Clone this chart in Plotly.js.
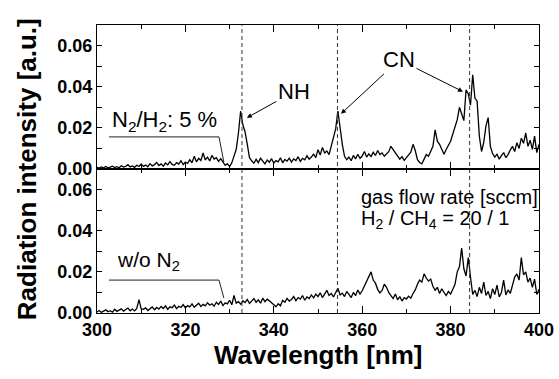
<!DOCTYPE html>
<html>
<head>
<meta charset="utf-8">
<script src="https://cdn.plot.ly/plotly-3.0.1.min.js"></script>
<style>html,body{margin:0;padding:0;background:#fff;}#chart{width:559px;height:379px;}</style>
</head>
<body>
<div id="chart"></div>
<script>
// Wavelength grid: start and step (nm)
const wlStart = 300;
const wlStep = 0.5;

// Spectrum with N2/H2 = 5 % (top panel), 300.0 ... 400.0 nm
const withN2 = [
0.0008,0.0004,0.0010,0.0006,0.0012,0.0005,0.0009,0.0014,0.0007,0.0011,
0.0006,0.0016,0.0009,0.0013,0.0021,0.0010,0.0015,0.0008,0.0018,0.0012,
0.0024,0.0013,0.0019,0.0011,0.0026,0.0015,0.0021,0.0032,0.0017,0.0025,
0.0014,0.0029,0.0020,0.0036,0.0022,0.0018,0.0031,0.0024,0.0040,0.0021,
0.0034,0.0027,0.0045,0.0030,0.0062,0.0035,0.0052,0.0041,0.0078,0.0044,
0.0058,0.0039,0.0066,0.0048,0.0055,0.0037,0.0050,0.0032,0.0018,0.0026,
0.0012,0.0030,0.0058,0.0096,0.0175,0.0282,0.0215,0.0180,0.0120,0.0055,
0.0040,0.0028,0.0047,0.0031,0.0052,0.0036,0.0025,0.0044,0.0033,0.0050,
0.0029,0.0041,0.0035,0.0055,0.0030,0.0046,0.0038,0.0053,0.0034,0.0049,
0.0041,0.0060,0.0037,0.0052,0.0045,0.0064,0.0048,0.0058,0.0072,0.0055,
0.0094,0.0068,0.0105,0.0078,0.0088,0.0070,0.0115,0.0165,0.0195,0.0282,
0.0185,0.0120,0.0062,0.0045,0.0058,0.0040,0.0066,0.0049,0.0072,0.0052,
0.0063,0.0085,0.0058,0.0074,0.0060,0.0081,0.0066,0.0090,0.0070,0.0078,
0.0062,0.0073,0.0084,0.0110,0.0095,0.0080,0.0062,0.0048,0.0060,0.0042,
0.0055,0.0068,0.0082,0.0120,0.0090,0.0045,0.0032,0.0025,0.0048,0.0070,
0.0062,0.0085,0.0110,0.0190,0.0135,0.0120,0.0098,0.0072,0.0095,0.0118,
0.0135,0.0170,0.0205,0.0240,0.0300,0.0265,0.0235,0.0385,0.0365,0.0310,
0.0458,0.0345,0.0330,0.0160,0.0085,0.0130,0.0210,0.0250,0.0110,0.0075,
0.0058,0.0072,0.0048,0.0065,0.0080,0.0055,0.0070,0.0092,0.0110,0.0085,
0.0128,0.0100,0.0150,0.0125,0.0175,0.0110,0.0140,0.0095,0.0160,0.0080,
0.0120
];

// Spectrum without N2 (bottom panel), 300.0 ... 400.0 nm
const withoutN2 = [
0.0005,0.0012,0.0003,0.0009,0.0015,0.0006,0.0011,0.0004,0.0018,0.0008,
0.0013,0.0020,0.0009,0.0016,0.0024,0.0011,0.0019,0.0010,0.0022,0.0065,
0.0020,0.0018,0.0025,0.0012,0.0021,0.0029,0.0016,0.0027,0.0019,0.0032,
0.0022,0.0035,0.0018,0.0030,0.0026,0.0038,0.0021,0.0033,0.0027,0.0041,
0.0025,0.0036,0.0030,0.0044,0.0028,0.0039,0.0047,0.0032,0.0042,0.0035,
0.0050,0.0038,0.0045,0.0033,0.0052,0.0041,0.0058,0.0036,0.0049,0.0044,
0.0062,0.0040,0.0085,0.0048,0.0055,0.0043,0.0060,0.0051,0.0066,0.0047,
0.0058,0.0070,0.0052,0.0064,0.0048,0.0072,0.0055,0.0067,0.0059,0.0050,
0.0038,0.0030,0.0045,0.0035,0.0062,0.0052,0.0071,0.0058,0.0066,0.0080,
0.0060,0.0075,0.0068,0.0085,0.0062,0.0078,0.0070,0.0088,0.0074,0.0092,
0.0080,0.0098,0.0075,0.0090,0.0110,0.0085,0.0095,0.0078,0.0102,0.0120,
0.0088,0.0096,0.0080,0.0105,0.0090,0.0075,0.0100,0.0085,0.0112,0.0092,
0.0108,0.0130,0.0150,0.0175,0.0200,0.0160,0.0145,0.0115,0.0098,0.0110,
0.0140,0.0125,0.0100,0.0085,0.0070,0.0092,0.0064,0.0080,0.0058,0.0075,
0.0068,0.0082,0.0072,0.0095,0.0112,0.0140,0.0160,0.0150,0.0190,0.0170,
0.0155,0.0165,0.0130,0.0110,0.0125,0.0095,0.0118,0.0100,0.0085,0.0105,
0.0092,0.0115,0.0140,0.0200,0.0225,0.0316,0.0215,0.0180,0.0270,0.0175,
0.0090,0.0110,0.0080,0.0125,0.0095,0.0150,0.0085,0.0105,0.0070,0.0118,
0.0090,0.0135,0.0078,0.0100,0.0160,0.0088,0.0112,0.0095,0.0140,0.0175,
0.0190,0.0160,0.0270,0.0185,0.0200,0.0150,0.0170,0.0125,0.0165,0.0090,
0.0115
];

// Emission line positions (nm) marked with dashed lines
const lineWavelengths = [332.8, 354.4, 384.3];

// Axis ranges / ticks
const xRange = [300, 400];
const yRange = [0, 0.07];
const yTickVals = [0, 0.02, 0.04, 0.06];
const yTickText = ['0.00', '0.02', '0.04', '0.06'];
const xTickVals = [300, 320, 340, 360, 380, 400];
const xTickText = ['300', '320', '340', '360', '380', '400'];

const FONT = 'Liberation Sans, Arial, sans-serif';
const tickFont = {family: FONT, size: 18, color: '#000', weight: 'bold'};

const traces = [
  {x0: wlStart, dx: wlStep, y: withN2, type: 'scatter', mode: 'lines',
   line: {color: '#000', width: 1.3}, xaxis: 'x2', yaxis: 'y2', hoverinfo: 'skip'},
  {x0: wlStart, dx: wlStep, y: withoutN2, type: 'scatter', mode: 'lines',
   line: {color: '#000', width: 1.3}, xaxis: 'x', yaxis: 'y', hoverinfo: 'skip'}
];

const yCommon = {
  range: yRange, tickmode: 'array', tickvals: yTickVals, ticktext: yTickText,
  ticks: 'inside', ticklen: 5, tickwidth: 1, tickcolor: '#000',
  minor: {dtick: 0.01, tick0: 0, ticks: 'inside', ticklen: 5, tickcolor: '#000'},
  showline: true, linecolor: '#000', linewidth: 1, mirror: 'allticks',
  showgrid: false, zeroline: false, tickfont: tickFont, fixedrange: true
};
const xCommon = {
  range: xRange, tickmode: 'array', tickvals: xTickVals, ticktext: xTickText,
  ticks: 'inside', ticklen: 7, tickwidth: 1, tickcolor: '#000',
  minor: {dtick: 10, tick0: 300, ticks: 'inside', ticklen: 4, tickcolor: '#000'},
  showline: true, linecolor: '#000', linewidth: 1, mirror: 'allticks',
  showgrid: false, zeroline: false, tickfont: tickFont, fixedrange: true
};

const shapes = lineWavelengths.map(w => ({
  type: 'line', xref: 'x', yref: 'paper', x0: w, x1: w, y0: 0, y1: 1,
  line: {color: '#333', width: 1, dash: '4px,3px'}
}));
// leader lines for the panel labels
shapes.push({type: 'path', xref: 'x2', yref: 'y2',
  path: 'M302.7,0.0156 L327.6,0.0156 L328.7,0.0034', line: {color: '#222', width: 1}});
shapes.push({type: 'path', xref: 'x', yref: 'y',
  path: 'M302.7,0.0160 L327.6,0.0160 L328.7,0.0073', line: {color: '#222', width: 1}});

const annFont = (s) => ({family: FONT, size: s, color: '#000'});
const annotations = [
  {xref: 'x2', yref: 'y2', x: 333.9, y: 0.0249, ax: 47, ay: -26, text: 'NH',
   font: annFont(22), showarrow: true, arrowhead: 2, arrowsize: 1, arrowwidth: 1, arrowcolor: '#000'},
  {xref: 'x2', yref: 'y2', x: 355.2, y: 0.0268, ax: 58, ay: -54, text: 'CN',
   font: annFont(22), showarrow: true, arrowhead: 2, arrowsize: 1, arrowwidth: 1, arrowcolor: '#000'},
  {xref: 'x2', yref: 'y2', x: 382.8, y: 0.0376, ax: -64, ay: -32, text: 'CN',
   font: {family: FONT, size: 22, color: 'rgba(0,0,0,0)'}, showarrow: true, arrowhead: 2, arrowsize: 1, arrowwidth: 1, arrowcolor: '#000'},
  {xref: 'x2', yref: 'y2', x: 303.0, y: 0.0235, xanchor: 'left', yanchor: 'middle',
   text: 'N<sub>2</sub>/H<sub>2</sub>: 5 %', font: annFont(22), showarrow: false},
  {xref: 'x', yref: 'y', x: 304.0, y: 0.0255, xanchor: 'left', yanchor: 'middle',
   text: 'w/o N<sub>2</sub>', font: annFont(21), showarrow: false},
  {xref: 'x', yref: 'y', x: 359.3, y: 0.0564, xanchor: 'left', yanchor: 'middle',
   text: 'gas flow rate [sccm]', font: annFont(20), showarrow: false},
  {xref: 'x', yref: 'y', x: 359.3, y: 0.0455, xanchor: 'left', yanchor: 'middle',
   text: 'H<sub>2</sub> / CH<sub>4</sub> = 20 / 1', font: annFont(20), showarrow: false},
  {xref: 'paper', yref: 'paper', x: -0.158, y: 0.5, xanchor: 'center', yanchor: 'middle',
   text: 'Radiation intensity [a.u.]', textangle: -90, showarrow: false,
   font: {family: FONT, size: 26, color: '#000', weight: 'bold'}},
  {xref: 'paper', yref: 'paper', x: 0.5, y: -0.0868, xanchor: 'center', yanchor: 'top',
   text: 'Wavelength [nm]', showarrow: false,
   font: {family: FONT, size: 26, color: '#000', weight: 'bold'}}
];

const layout = {
  width: 559, height: 379,
  margin: {l: 97, r: 20, t: 25, b: 66, pad: 0},
  paper_bgcolor: '#fff', plot_bgcolor: '#fff',
  showlegend: false,
  xaxis: Object.assign({}, xCommon, {anchor: 'y', domain: [0, 1]}),
  xaxis2: Object.assign({}, xCommon, {anchor: 'y2', matches: 'x', showticklabels: false}),
  yaxis: Object.assign({}, yCommon, {anchor: 'x', domain: [0, 0.5]}),
  yaxis2: Object.assign({}, yCommon, {anchor: 'x2', domain: [0.5, 1]}),
  shapes: shapes,
  annotations: annotations
};

Plotly.newPlot('chart', traces, layout, {staticPlot: true, displayModeBar: false});
</script>
</body>
</html>
